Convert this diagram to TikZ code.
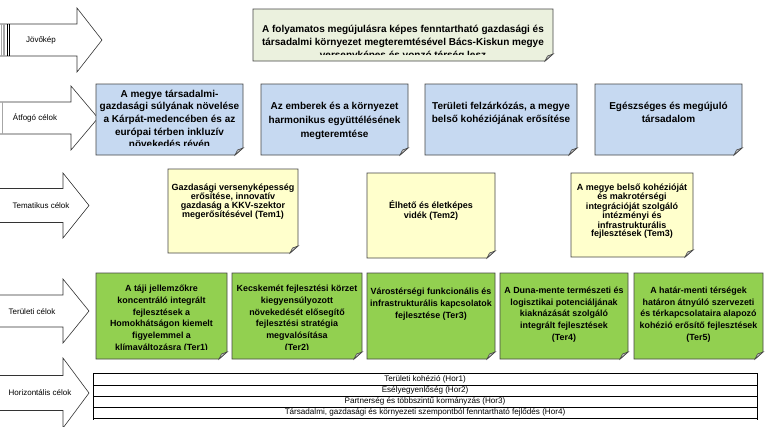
\documentclass[tikz,border=0pt]{standalone}
\usepackage{fontspec}
\setmainfont{Liberation Sans}
\definecolor{visfill}{RGB}{235,241,222}
\definecolor{bluefill}{RGB}{198,217,241}
\definecolor{yelfill}{RGB}{255,255,204}
\definecolor{grnfill}{RGB}{146,208,80}
\definecolor{edgec}{RGB}{70,70,70}
\tikzset{
  notefr/.style={draw=edgec, line width=0.8bp},
  arrowfr/.style={draw=black!80, line width=0.6bp, fill=white},
  arrlabel/.style={font=\fontsize{8bp}{9bp}\selectfont, inner sep=0},
  boxtxt/.style 2 args={align=center, inner sep=0, anchor=north, font=\bfseries\fontsize{#1}{#2}\selectfont},
  hortxt/.style={font=\fontsize{8.1bp}{9bp}\selectfont, inner sep=0},
}
\newcommand\notebox[5]{%
  \filldraw[notefr, fill=#5] (#1,#2) -- (#3,#2) -- (#3,#4-7) -- (#3-8,#4) -- (#1,#4) -- cycle;
  \filldraw[notefr, fill=gray!45, line width=0.6bp] (#3-8,#4) -- (#3-5.5,#4-5) -- (#3,#4-7) -- cycle;
}
% arrow: #1 tip x, #2 base x, #3 center y, #4 head half, #5 body half
\newcommand\bigarrow[5]{%
  \filldraw[arrowfr] (-2,#3-#5) -- (#2,#3-#5) -- (#2,#3-#4) -- (#1,#3) -- (#2,#3+#4) -- (#2,#3+#5) -- (-2,#3+#5);
}
\begin{document}
\begin{tikzpicture}[x=1bp,y=-1bp]
\useasboundingbox (0,0) rectangle (770,426);
\fill[white] (0,0) rectangle (770,426);

% ---- left arrows
\bigarrow{102}{77}{40}{32}{16}
\foreach \xx in {1.5,3,4.5} \draw[gray!70, line width=0.7bp] (\xx,24) -- (\xx,56);
\foreach \xx in {7.3,9.5} \draw[black, line width=0.7bp] (\xx,24) -- (\xx,56);
\node[arrlabel] (jovokep) at (41,40) {Jövőkép};

\bigarrow{98}{71}{118}{32}{16}
\draw[gray!70, line width=1.5bp] (2.5,102) -- (2.5,134);
\node[arrlabel] (atfogo) at (35,118) {Átfogó célok};

\bigarrow{89}{63}{205.5}{32.5}{17}
\node[arrlabel] (tematikus) at (41,206) {Tematikus célok};

\bigarrow{89}{63}{311}{32}{16}
\node[arrlabel] (teruleti) at (32,312) {Területi célok};

\bigarrow{89}{63}{393}{35}{17.5}
\node[arrlabel] (horizontalis) at (40,393) {Horizontális célok};

% ---- vision
\notebox{253}{9}{553}{61}{visfill}
\begin{scope}
\clip (253,9) rectangle (553,54);
\node[boxtxt={10bp}{13bp}] (vision) at (403,24.5) {A folyamatos megújulásra képes fenntartható gazdasági és\\társadalmi környezet megteremtésével Bács-Kiskun megye\\versenyképes és vonzó térség lesz};
\end{scope}

% ---- atfogo celok
\notebox{96}{84}{243}{155}{bluefill}
\notebox{261}{84}{408}{155}{bluefill}
\notebox{425}{84}{577}{155}{bluefill}
\notebox{595}{84}{742}{155}{bluefill}
\begin{scope}
\clip (96,84) rectangle (243,145.5);
\node[boxtxt={10bp}{12.7bp}] (atf1) at (169.5,89.5) {A megye társadalmi-\\gazdasági súlyának növelése\\a Kárpát-medencében és az\\európai térben inkluzív\\növekedés révén};
\end{scope}
\node[boxtxt={10bp}{14bp}] (atf2) at (334.5,101.5) {Az emberek és a környezet\\harmonikus együttélésének\\megteremtése};
\node[boxtxt={10bp}{13.5bp}] (atf3) at (501,101.5) {Területi felzárkózás, a megye\\belső kohéziójának erősítése};
\node[boxtxt={10bp}{13.5bp}] (atf4) at (668.5,101.5) {Egészséges és megújuló\\társadalom};

% ---- tematikus celok
\notebox{168}{169}{298}{253}{yelfill}
\notebox{367}{173}{495}{258}{yelfill}
\notebox{571}{173}{693}{257}{yelfill}
\node[boxtxt={9bp}{8.3bp}] (tem1) at (233,183.5) {Gazdasági versenyképesség\\erősítése, innovatív\\gazdaság a KKV-szektor\\megerősítésével (Tem1)};
\node[boxtxt={9bp}{10bp}] (tem2) at (431,200.3) {Élhető és életképes\\vidék (Tem2)};
\node[boxtxt={9bp}{7.8bp}] (tem3) at (632,183.5) {A megye belső kohézióját\\és makrotérségi\\integrációját szolgáló\\intézményi és\\infrastrukturális\\fejlesztések (Tem3)};

% ---- teruleti celok
\notebox{96}{273}{227}{359}{grnfill}
\notebox{232}{273}{362}{359}{grnfill}
\notebox{367}{273}{495}{359}{grnfill}
\notebox{500}{273}{628}{359}{grnfill}
\notebox{634}{273}{763}{359}{grnfill}
\begin{scope}
\clip (96,273) rectangle (227,349.5);
\node[boxtxt={8.9bp}{11.9bp}] (ter1) at (161.5,284.5) {A táji jellemzőkre\\koncentráló integrált\\fejlesztések a\\Homokhátságon kiemelt\\figyelemmel a\\klímaváltozásra (Ter1)};
\end{scope}
\begin{scope}
\clip (232,273) rectangle (362,349.5);
\node[boxtxt={8.9bp}{11.9bp}] (ter2) at (297,284.5) {Kecskemét fejlesztési körzet\\kiegyensúlyozott\\növekedését elősegítő\\fejlesztési stratégia\\megvalósítása\\(Ter2)};
\end{scope}
\node[boxtxt={8.9bp}{11.9bp}] (ter3) at (431,287.5) {Várostérségi funkcionális és\\infrastrukturális kapcsolatok\\fejlesztése (Ter3)};
\node[boxtxt={8.9bp}{11.8bp}] (ter4) at (564,286.5) {A Duna-mente természeti és\\logisztikai potenciáljának\\kiaknázását szolgáló\\integrált fejlesztések\\(Ter4)};
\node[boxtxt={8.9bp}{11.8bp}] (ter5) at (698.5,286.5) {A határ-menti térségek\\határon átnyúló szervezeti\\és térkapcsolataira alapozó\\kohézió erősítő fejlesztések\\(Ter5)};

% ---- horizontal table
\draw[black, line width=0.8bp] (93,373) -- (757,373);
\foreach \yy in {385,396,407,418} \draw[black, line width=0.8bp] (93,\yy) -- (757,\yy);
\draw[black, line width=0.8bp] (93,373) -- (93,420);
\draw[black, line width=0.8bp] (757,373) -- (757,420);
\node[hortxt] (hor1) at (425,379.5) {Területi kohézió (Hor1)};
\node[hortxt] (hor2) at (425,390.5) {Esélyegyenlőség (Hor2)};
\node[hortxt] (hor3) at (425,401.5) {Partnerség és többszintű kormányzás (Hor3)};
\node[hortxt] (hor4) at (425,412.5) {Társadalmi, gazdasági és környezeti szempontból fenntartható fejlődés (Hor4)};
\end{tikzpicture}
\end{document}
